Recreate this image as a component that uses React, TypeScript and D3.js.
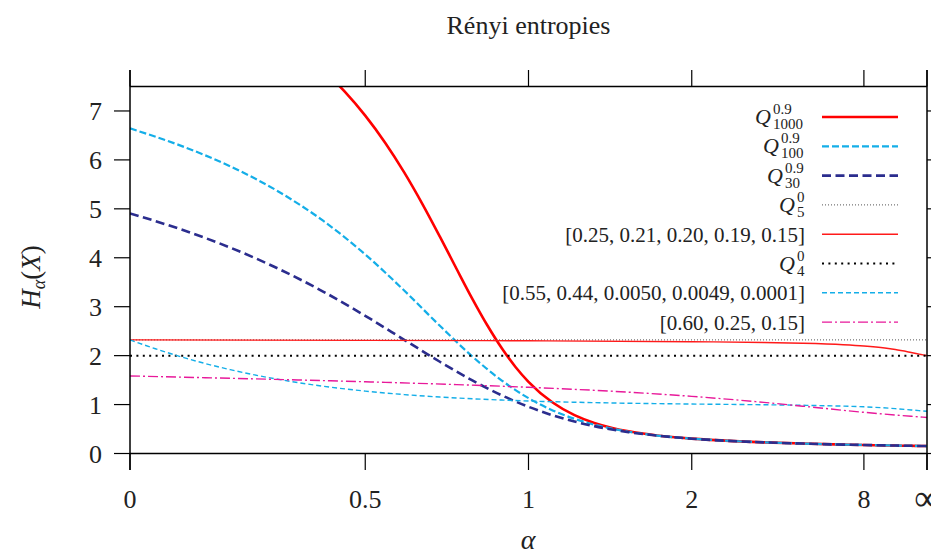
import React from "react";
import * as d3 from "d3";

const W = 931;
const H = 552;

// alpha values (Infinity = ∞) and entropy values
const alphaQ1000 = [0, 0.1, 0.2, 0.3, 0.4, 0.45, 0.5, 0.55, 0.6, 0.65, 0.7, 0.75, 0.8, 0.85, 0.9, 0.95, 1, 1.1, 1.2, 1.3, 1.4, 1.5, 1.7, 2, 2.5, 3, 4, 6, 8, 12, 16, 32, 64, Infinity];
const valuesQ1000 = [9.966, 9.6, 9.145, 8.572, 7.839, 7.399, 6.904, 6.351, 5.745, 5.098, 4.432, 3.776, 3.161, 2.615, 2.15, 1.769, 1.465, 1.041, 0.783, 0.624, 0.522, 0.453, 0.369, 0.304, 0.253, 0.228, 0.203, 0.182, 0.174, 0.166, 0.162, 0.157, 0.154, 0.152];

const alphaQ100 = [0, 0.1, 0.2, 0.3, 0.4, 0.5, 0.6, 0.7, 0.8, 0.9, 1, 1.1, 1.2, 1.3, 1.5, 1.7, 2, 2.5, 3, 4, 6, 8, 12, 16, 32, 64, Infinity];
const valuesQ100 = [6.644, 6.292, 5.869, 5.36, 4.757, 4.068, 3.33, 2.61, 1.983, 1.491, 1.132, 0.881, 0.709, 0.59, 0.445, 0.367, 0.304, 0.253, 0.228, 0.203, 0.182, 0.174, 0.166, 0.162, 0.157, 0.154, 0.152];

const alphaQ30 = [0, 0.1, 0.2, 0.3, 0.4, 0.5, 0.6, 0.7, 0.8, 0.9, 1, 1.1, 1.2, 1.3, 1.5, 1.7, 2, 2.5, 3, 4, 6, 8, 12, 16, 32, 64, Infinity];
const valuesQ30 = [4.907, 4.583, 4.208, 3.781, 3.31, 2.814, 2.324, 1.875, 1.493, 1.188, 0.955, 0.781, 0.653, 0.559, 0.436, 0.365, 0.303, 0.253, 0.228, 0.203, 0.182, 0.174, 0.166, 0.162, 0.157, 0.154, 0.152];

const alphaQ5 = [0, Infinity];
const valuesQ5 = [2.322, 2.322];

const alphaP1 = [0, 0.5, 1, 2, 3, 4, 6, 8, 12, 16, 32, 64, 128, Infinity];
const valuesP1 = [2.322, 2.312, 2.303, 2.285, 2.268, 2.252, 2.222, 2.196, 2.155, 2.124, 2.064, 2.032, 2.016, 2.0];

const alphaQ4 = [0, Infinity];
const valuesQ4 = [2.0, 2.0];

const alphaP2 = [0, 0.025, 0.05, 0.1, 0.15, 0.2, 0.3, 0.4, 0.5, 0.6, 0.7, 0.8, 0.9, 1, 1.1, 1.2, 1.5, 2, 3, 4, 6, 8, 16, 32, 64, Infinity];
const valuesP2 = [2.322, 2.229, 2.141, 1.979, 1.837, 1.714, 1.517, 1.375, 1.275, 1.204, 1.154, 1.118, 1.092, 1.073, 1.058, 1.048, 1.027, 1.011, 0.996, 0.985, 0.968, 0.954, 0.917, 0.89, 0.876, 0.863];

const alphaP3 = [0, 0.1, 0.25, 0.5, 0.75, 1, 1.5, 2, 3, 4, 8, 16, 32, 64, Infinity];
const valuesP3 = [1.585, 1.561, 1.525, 1.466, 1.408, 1.353, 1.253, 1.168, 1.045, 0.967, 0.842, 0.786, 0.761, 0.749, 0.737];

const xTickValues = [0, 0.5, 1, 2, 8, Infinity];
const xTickLabels = ["0", "0.5", "1", "2", "8", "∞"];
const yTickValues = [0, 1, 2, 3, 4, 5, 6, 7];

type Series = {
  alphas: number[];
  values: number[];
  color: string;
  width: number;
  dash?: string;
  label: { kind: "Q"; sup: string; sub: string } | { kind: "text"; text: string };
};

const series: Series[] = [
  { alphas: alphaQ1000, values: valuesQ1000, color: "#ff0000", width: 2.6, label: { kind: "Q", sup: "0.9", sub: "1000" } },
  { alphas: alphaQ100, values: valuesQ100, color: "#14aee8", width: 2.2, dash: "7,3", label: { kind: "Q", sup: "0.9", sub: "100" } },
  { alphas: alphaQ30, values: valuesQ30, color: "#2b2d8e", width: 2.6, dash: "9,4.5", label: { kind: "Q", sup: "0.9", sub: "30" } },
  { alphas: alphaQ5, values: valuesQ5, color: "#555555", width: 1, dash: "1,2", label: { kind: "Q", sup: "0", sub: "5" } },
  { alphas: alphaP1, values: valuesP1, color: "#ff1a1a", width: 1.4, label: { kind: "text", text: "[0.25, 0.21, 0.20, 0.19, 0.15]" } },
  { alphas: alphaQ4, values: valuesQ4, color: "#000000", width: 2, dash: "2,4.4", label: { kind: "Q", sup: "0", sub: "4" } },
  { alphas: alphaP2, values: valuesP2, color: "#14aee8", width: 1.4, dash: "5,3", label: { kind: "text", text: "[0.55, 0.44, 0.0050, 0.0049, 0.0001]" } },
  { alphas: alphaP3, values: valuesP3, color: "#e8199a", width: 1.4, dash: "10,3,2,3", label: { kind: "text", text: "[0.60, 0.25, 0.15]" } },
];

const x0 = 130;
const x1 = 927;
const yBottom = 453.5;
const yTop = 86.5;

const tScale = d3.scaleLinear().domain([0, 1]).range([x0, x1]);
const xPos = (a: number) => tScale((2 / Math.PI) * Math.atan(a));
const yScale = d3.scaleLinear().domain([0, 7.5]).range([yBottom, yTop]);

const SERIF = '"Liberation Serif", "Tinos", "Times New Roman", serif';
const tStyle: React.CSSProperties = { fontFamily: SERIF };

export default function App() {
  const line = d3
    .line<[number, number]>()
    .x((d) => xPos(d[0]))
    .y((d) => yScale(d[1]))
    .curve(d3.curveMonotoneX);

  const legendTextX = 805;
  const legendLineX0 = 822;
  const legendLineX1 = 898;
  const legendY0 = 117;
  const legendStep = 29.3;

  return (
    <svg
      width={W}
      height={H}
      style={{ position: "absolute", left: 0, top: 0, background: "#fff", fontFamily: SERIF }}
    >
      <defs>
        <clipPath id="plotClip">
          <rect x={x0} y={yTop} width={x1 - x0} height={yBottom - yTop} />
        </clipPath>
      </defs>
      <rect x={0} y={0} width={W} height={H} fill="#fff" />

      {/* title */}
      <text x={(x0 + x1) / 2} y={34} textAnchor="middle" fontSize={26} fill="#222" style={tStyle}>
        Rényi entropies
      </text>

      {/* curves */}
      <g clipPath="url(#plotClip)">
        {series.map((s, i) => (
          <path
            key={i}
            d={line(s.alphas.map((a, j) => [a, s.values[j]] as [number, number])) || ""}
            fill="none"
            stroke={s.color}
            strokeWidth={s.width}
            strokeDasharray={s.dash}
          />
        ))}
      </g>

      {/* frame */}
      <g stroke="#000" fill="none">
        <line x1={x0} y1={yTop} x2={x1} y2={yTop} strokeWidth={1.5} />
        <line x1={x0} y1={yBottom} x2={x1} y2={yBottom} strokeWidth={1.5} />
        <line x1={x0} y1={70} x2={x0} y2={470} strokeWidth={1.5} />
        <line x1={x1} y1={70} x2={x1} y2={470} strokeWidth={1.5} />
        {xTickValues.map((a, i) => (
          <g key={i}>
            <line x1={xPos(a)} y1={yBottom} x2={xPos(a)} y2={470} strokeWidth={1.2} />
            <line x1={xPos(a)} y1={70} x2={xPos(a)} y2={yTop} strokeWidth={1.2} />
          </g>
        ))}
        {yTickValues.map((v) => (
          <g key={v}>
            <line x1={114} y1={yScale(v)} x2={x0} y2={yScale(v)} strokeWidth={1.2} />
            <line x1={x1} y1={yScale(v)} x2={x1 + 16} y2={yScale(v)} strokeWidth={1.2} />
          </g>
        ))}
      </g>

      {/* tick labels */}
      {yTickValues.map((v) => (
        <text key={v} x={102} y={yScale(v) + 9} textAnchor="end" fontSize={26} fill="#222" style={tStyle}>
          {v}
        </text>
      ))}
      {xTickValues.map((a, i) => (
        <text
          key={i}
          x={xPos(a)}
          y={i === xTickValues.length - 1 ? 510 : 508}
          textAnchor="middle"
          fontSize={i === xTickValues.length - 1 ? 36 : 26}
          fill="#222"
          style={tStyle}
        >
          {xTickLabels[i]}
        </text>
      ))}

      {/* axis labels */}
      <text x={528} y={549} textAnchor="middle" fontSize={28} fontStyle="italic" fill="#222" style={tStyle}>
        α
      </text>
      <g transform="translate(40,277) rotate(-90)">
        <text textAnchor="middle" fontSize={27} fill="#222" style={tStyle}>
          <tspan fontStyle="italic">H</tspan>
          <tspan fontStyle="italic" fontSize={18} dy={5}>α</tspan>
          <tspan dy={-5}>(</tspan>
          <tspan fontStyle="italic">X</tspan>
          <tspan>)</tspan>
        </text>
      </g>

      {/* legend */}
      {series.map((s, i) => {
        const y = legendY0 + i * legendStep;
        let label: React.ReactNode;
        if (s.label.kind === "Q") {
          const subW = s.label.sub.length * 8;
          const supW = s.label.sup.replace(".", "").length * 8 + (s.label.sup.includes(".") ? 4 : 0);
          const scriptW = Math.max(subW, supW);
          const xq = legendTextX - scriptW - 2;
          label = (
            <g fill="#222">
              <text x={xq} y={y + 7} textAnchor="end" fontSize={22} fontStyle="italic" style={tStyle}>Q</text>
              <text x={xq + 2} y={y - 3} fontSize={15} style={tStyle}>{s.label.sup}</text>
              <text x={xq + 2} y={y + 12} fontSize={15} style={tStyle}>{s.label.sub}</text>
            </g>
          );
        } else {
          label = (
            <text x={legendTextX} y={y + 7.5} textAnchor="end" fontSize={21} fill="#222" style={tStyle}>
              {s.label.text}
            </text>
          );
        }
        return (
          <g key={i}>
            {label}
            <line
              x1={legendLineX0}
              x2={legendLineX1}
              y1={y}
              y2={y}
              stroke={s.color}
              strokeWidth={s.width}
              strokeDasharray={s.dash}
            />
          </g>
        );
      })}
    </svg>
  );
}
